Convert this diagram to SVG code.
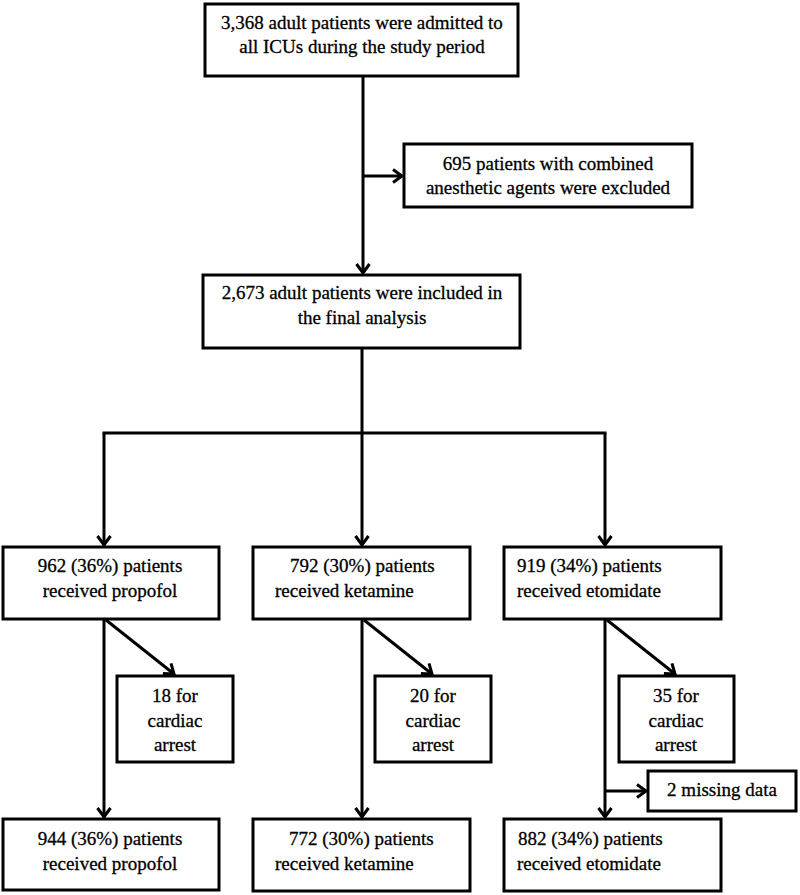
<svg xmlns="http://www.w3.org/2000/svg" width="800" height="895" viewBox="0 0 800 895">
<defs>
<style>
.box{fill:#fff;stroke:#000;stroke-width:3}
.t{font-family:"Liberation Serif","Times New Roman",serif;font-size:19px;fill:#000;stroke:#000;stroke-width:0.3}
.c{text-anchor:middle}
.ln{stroke:#000;stroke-width:3;fill:none}
</style>
<marker id="ah" markerUnits="userSpaceOnUse" viewBox="-12 -8 14 16" refX="0" refY="0" markerWidth="14" markerHeight="16" orient="auto" overflow="visible">
<path d="M-9,-6.5 L0,0 L-9,6.5" fill="none" stroke="#000" stroke-width="3"/>
</marker>
</defs>
<rect width="800" height="895" fill="#fff"/>
<g id="connectors">
<line class="ln" x1="363" y1="76" x2="363" y2="273" marker-end="url(#ah)"/>
<line class="ln" x1="363" y1="176" x2="402" y2="176" marker-end="url(#ah)"/>
<line class="ln" x1="362" y1="348" x2="362" y2="433"/>
<line class="ln" x1="102.5" y1="433" x2="606.5" y2="433"/>
<line class="ln" x1="104" y1="433" x2="104" y2="545" marker-end="url(#ah)"/>
<line class="ln" x1="362" y1="433" x2="362" y2="545" marker-end="url(#ah)"/>
<line class="ln" x1="605" y1="433" x2="605" y2="545" marker-end="url(#ah)"/>
<line class="ln" x1="104" y1="619" x2="104" y2="817" marker-end="url(#ah)"/>
<line class="ln" x1="362" y1="619" x2="362" y2="817" marker-end="url(#ah)"/>
<line class="ln" x1="605" y1="619" x2="605" y2="817" marker-end="url(#ah)"/>
<line class="ln" x1="106" y1="620" x2="174" y2="674" marker-end="url(#ah)"/>
<line class="ln" x1="364" y1="620" x2="432" y2="674" marker-end="url(#ah)"/>
<line class="ln" x1="607" y1="620" x2="675" y2="674" marker-end="url(#ah)"/>
<line class="ln" x1="605" y1="791" x2="646" y2="791" marker-end="url(#ah)"/>
</g>
<g id="admitted">
<rect class="box" x="205" y="4" width="313" height="72"/>
<text class="t c" x="362" y="29">3,368 adult patients were admitted to</text>
<text class="t c" x="362" y="53">all ICUs during the study period</text>
</g>
<g id="excluded">
<rect class="box" x="404" y="144" width="288" height="63"/>
<text class="t c" x="548" y="170">695 patients with combined</text>
<text class="t c" x="548" y="194">anesthetic agents were excluded</text>
</g>
<g id="included">
<rect class="box" x="203" y="275" width="317" height="73"/>
<text class="t c" x="362" y="299">2,673 adult patients were included in</text>
<text class="t c" x="362" y="324">the final analysis</text>
</g>
<g id="propofol1">
<rect class="box" x="3" y="547" width="216" height="72"/>
<text class="t c" x="110" y="572">962 (36%) patients</text>
<text class="t c" x="110" y="597">received propofol</text>
</g>
<g id="ketamine1">
<rect class="box" x="253" y="547" width="217" height="72"/>
<text class="t" x="290" y="572">792 (30%) patients</text>
<text class="t" x="275" y="597">received ketamine</text>
</g>
<g id="etomidate1">
<rect class="box" x="504" y="547" width="217" height="72"/>
<text class="t" x="517" y="572">919 (34%) patients</text>
<text class="t" x="517" y="597">received etomidate</text>
</g>
<g id="cardiac1">
<rect class="box" x="117" y="676" width="116" height="86"/>
<text class="t c" x="175" y="702">18 for</text>
<text class="t c" x="175" y="727">cardiac</text>
<text class="t c" x="175" y="751">arrest</text>
</g>
<g id="cardiac2">
<rect class="box" x="375" y="676" width="116" height="86"/>
<text class="t c" x="433" y="702">20 for</text>
<text class="t c" x="433" y="727">cardiac</text>
<text class="t c" x="433" y="751">arrest</text>
</g>
<g id="cardiac3">
<rect class="box" x="619" y="676" width="115" height="86"/>
<text class="t c" x="676" y="702">35 for</text>
<text class="t c" x="676" y="727">cardiac</text>
<text class="t c" x="676" y="751">arrest</text>
</g>
<g id="missing">
<rect class="box" x="648" y="771" width="148" height="40"/>
<text class="t c" x="722" y="796">2 missing data</text>
</g>
<g id="propofol2">
<rect class="box" x="3" y="819" width="216" height="71"/>
<text class="t c" x="110" y="845">944 (36%) patients</text>
<text class="t c" x="110" y="870">received propofol</text>
</g>
<g id="ketamine2">
<rect class="box" x="253" y="819" width="217" height="72"/>
<text class="t" x="289" y="845">772 (30%) patients</text>
<text class="t" x="275" y="870">received ketamine</text>
</g>
<g id="etomidate2">
<rect class="box" x="504" y="819" width="217" height="72"/>
<text class="t" x="518" y="845">882 (34%) patients</text>
<text class="t" x="517" y="870">received etomidate</text>
</g>
</svg>
